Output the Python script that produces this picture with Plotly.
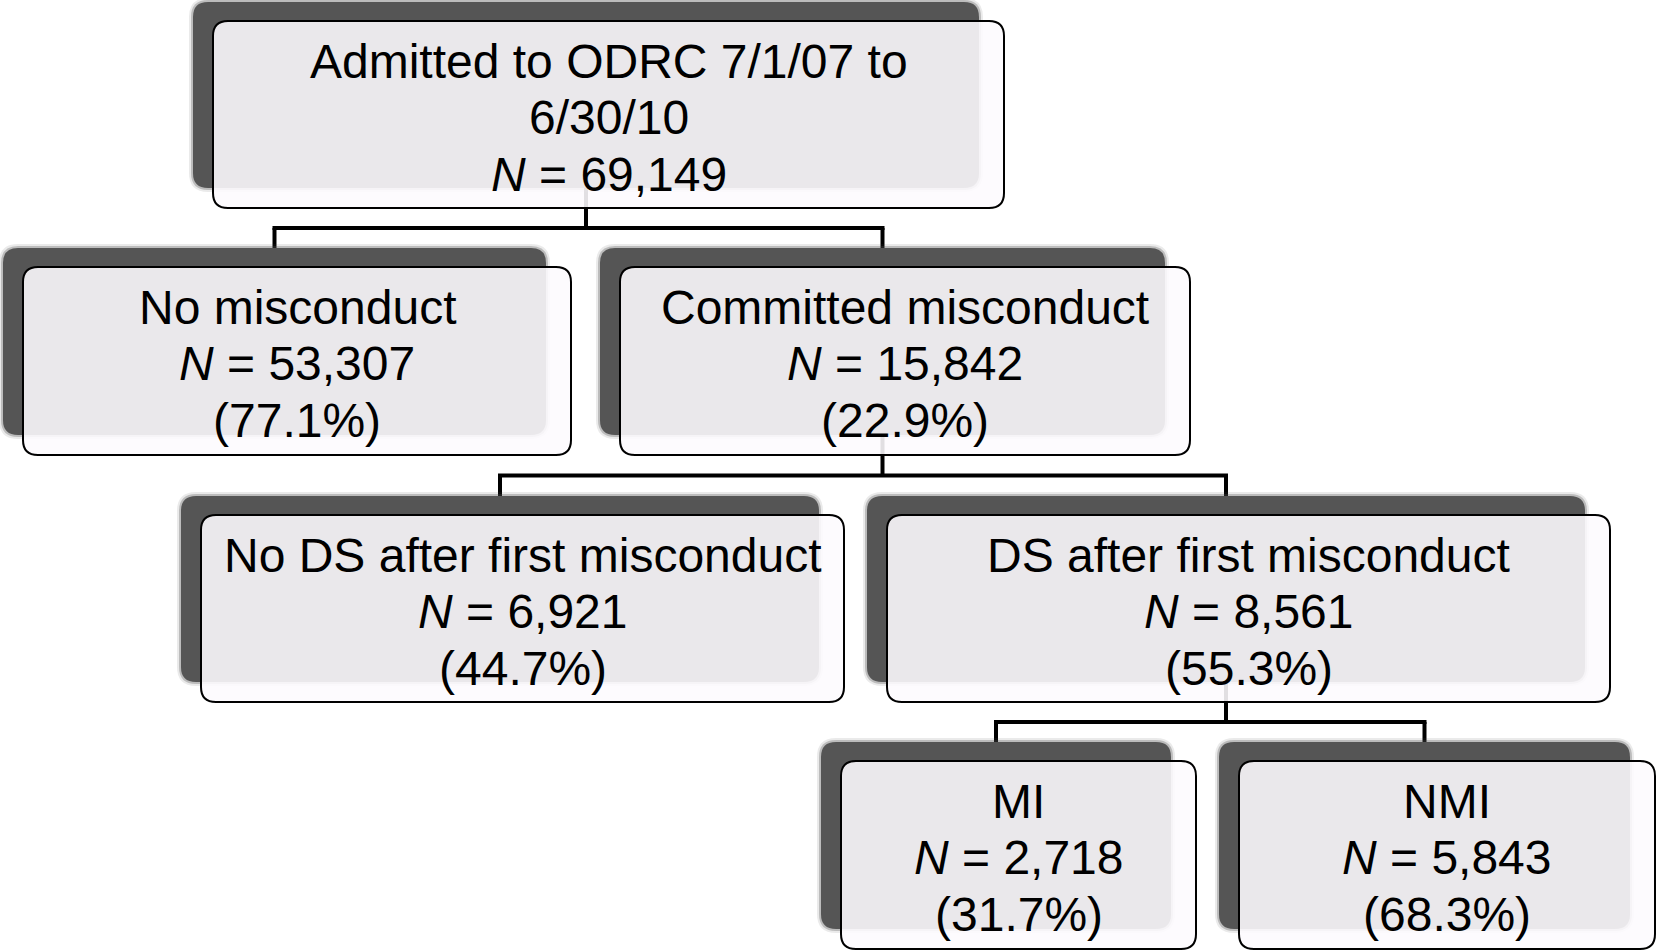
import plotly.graph_objects as go

# ---- data ----
labels = ["Admitted to ODRC 7/1/07 to<br>6/30/10", "No misconduct", "Committed misconduct",
          "No DS after first misconduct", "DS after first misconduct", "MI", "NMI"]
counts = [69149, 53307, 15842, 6921, 8561, 2718, 5843]
percents = [None, 77.1, 22.9, 44.7, 55.3, 31.7, 68.3]
parents = [None, 0, 0, 2, 2, 4, 4]

# ---- layout geometry (page pixels, y downwards) ----
W, H = 1657, 951
front = [(213, 21, 1004, 208), (23, 267, 571, 455), (620, 267, 1190, 455),
         (201, 515, 844, 702), (887, 515, 1610, 702), (841, 761, 1196, 949),
         (1239, 761, 1655, 949)]
SH_DX, SH_DY, SH_SHRINK = -20, -19, 5
RAD = 15
LINE_OFFS = [40, 96, 153]
FONT = "Liberation Sans, Arial, Helvetica, sans-serif"
FS = 48


def shadow_box(i):
    x0, y0, x1, y1 = front[i]
    return (x0 + SH_DX, y0 + SH_DY, x1 + SH_DX - SH_SHRINK, y1 + SH_DY - 1)


def rrect(x0, y0, x1, y1, r):
    return (f"M{x0 + r},{y0} L{x1 - r},{y0} Q{x1},{y0} {x1},{y0 + r} "
            f"L{x1},{y1 - r} Q{x1},{y1} {x1 - r},{y1} L{x0 + r},{y1} "
            f"Q{x0},{y1} {x0},{y1 - r} L{x0},{y0 + r} Q{x0},{y0} {x0 + r},{y0} Z")


shapes = []
# connectors
children = {}
for i, p in enumerate(parents):
    if p is not None:
        children.setdefault(p, []).append(i)
for p, kids in children.items():
    ps = shadow_box(p)
    pcx = (ps[0] + ps[2]) / 2
    ybar = (front[p][3] + shadow_box(kids[0])[1]) / 2
    shapes.append(dict(type="line", x0=pcx, x1=pcx, y0=ps[3], y1=ybar,
                       line=dict(color="black", width=4), layer="below"))
    cxs = []
    for k in kids:
        ks = shadow_box(k)
        kcx = (ks[0] + ks[2]) / 2
        cxs.append(kcx)
        shapes.append(dict(type="line", x0=kcx, x1=kcx, y0=ybar, y1=ks[1],
                           line=dict(color="black", width=4), layer="below"))
    shapes.append(dict(type="line", x0=min(cxs) - 2, x1=max(cxs) + 2, y0=ybar, y1=ybar,
                       line=dict(color="black", width=4), layer="below"))

annotations = []
for i in range(len(labels)):
    sx0, sy0, sx1, sy1 = shadow_box(i)
    # soft shadow
    for grow, op in [(4, 0.12), (2, 0.3)]:
        shapes.append(dict(type="path", path=rrect(sx0 - grow, sy0 - grow, sx1 + grow, sy1 + grow, RAD + grow),
                           fillcolor="#525252", opacity=op, line=dict(width=0)))
    shapes.append(dict(type="path", path=rrect(sx0, sy0, sx1, sy1, RAD),
                       fillcolor="#555555", line=dict(width=0)))
for i in range(len(labels)):
    x0, y0, x1, y1 = front[i]
    shapes.append(dict(type="path", path=rrect(x0, y0, x1, y1, RAD),
                       fillcolor="rgba(253,251,254,0.89)", line=dict(color="black", width=2)))
    lines = labels[i].split("<br>")
    lines.append(f"<i>N</i> = {counts[i]:,}")
    if percents[i] is not None:
        lines.append(f"({percents[i]:.1f}%)")
    cx = (x0 + x1) / 2
    for j, t in enumerate(lines):
        annotations.append(dict(x=cx, y=y0 + LINE_OFFS[j], text=t, showarrow=False,
                                xanchor="center", yanchor="middle",
                                font=dict(family=FONT, size=FS, color="black")))

fig = go.Figure()
fig.add_trace(go.Scatter(x=[(f[0] + f[2]) / 2 for f in front], y=[(f[1] + f[3]) / 2 for f in front],
                         mode="markers", marker=dict(opacity=0), hoverinfo="skip", showlegend=False))
fig.update_layout(width=W, height=H, margin=dict(l=0, r=0, t=0, b=0),
                  paper_bgcolor="white", plot_bgcolor="white",
                  xaxis=dict(range=[0, W], visible=False, fixedrange=True),
                  yaxis=dict(range=[H, 0], visible=False, fixedrange=True),
                  shapes=shapes, annotations=annotations, showlegend=False)
fig.write_html("out.html", config={"displayModeBar": False},
               post_script="document.body.style.margin='0';document.body.style.overflow='hidden';")
